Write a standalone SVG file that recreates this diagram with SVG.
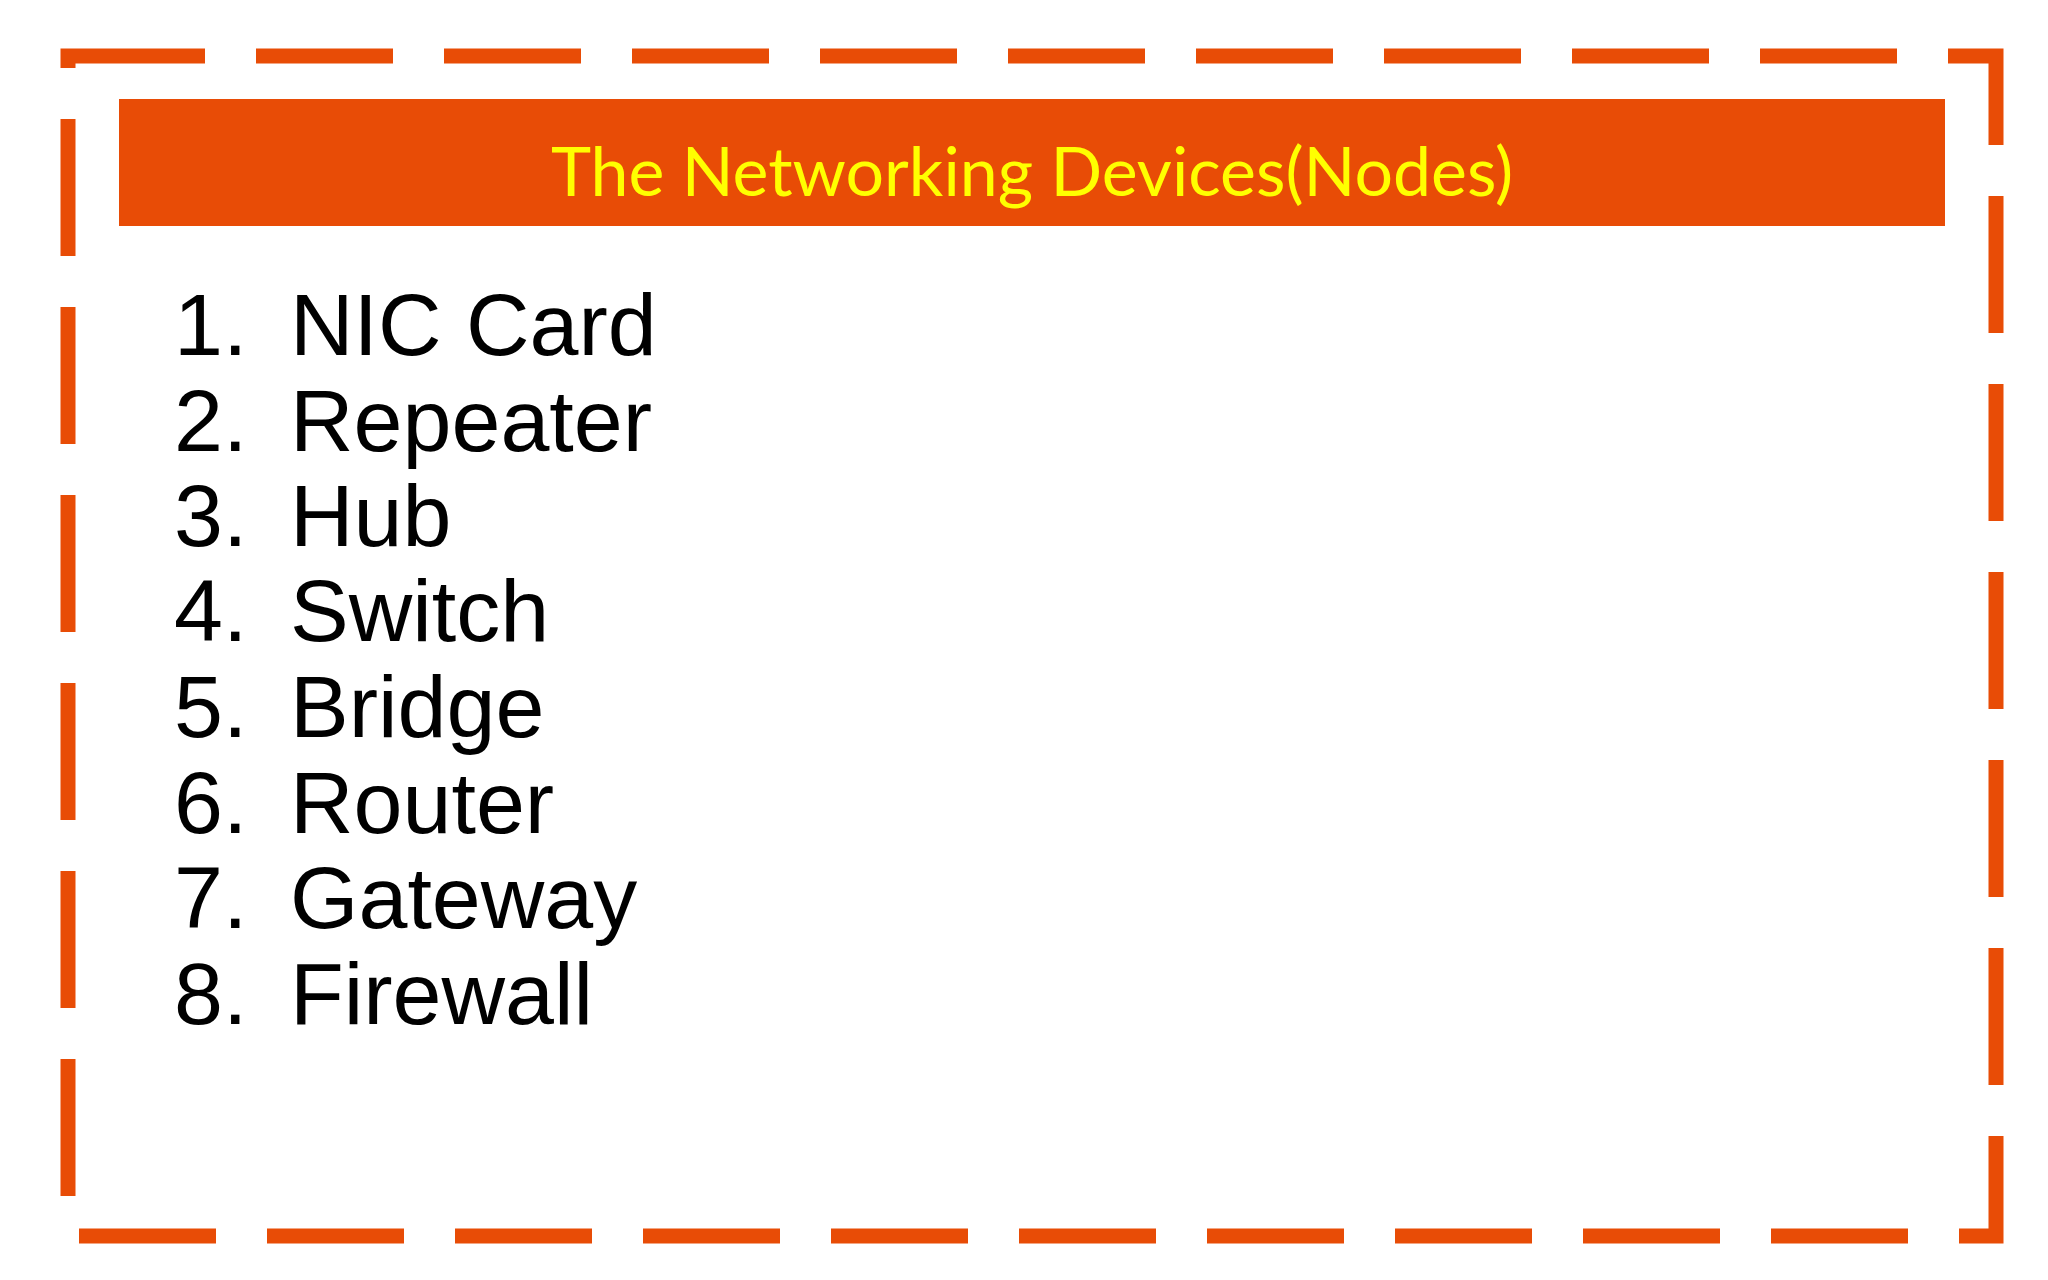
<svg xmlns="http://www.w3.org/2000/svg" width="2048" height="1280" viewBox="0 0 2048 1280">
<style>
.item{font-family:"Liberation Sans",Arial,sans-serif;font-size:88px;fill:#000}
.title{font-family:"Lato","Open Sans",sans-serif;font-size:68px;fill:#FFFF00}
</style>
<rect width="2048" height="1280" fill="#fff"/>
<g id="border">
<rect x="68" y="56" width="1928" height="1180" fill="none" stroke="#E84C06" stroke-width="15" stroke-dasharray="137 51"/>
</g>
<g id="header">
<rect x="119" y="99" width="1826" height="127" fill="#E84C06"/>
<text class="title" x="1032" y="196" text-anchor="middle">The Networking Devices(Nodes)</text>
</g>
<g id="list">
<text class="item" x="174" y="355">1.</text><text class="item" x="290" y="355">NIC Card</text>
<text class="item" x="174" y="451">2.</text><text class="item" x="290" y="451">Repeater</text>
<text class="item" x="174" y="546">3.</text><text class="item" x="290" y="546">Hub</text>
<text class="item" x="174" y="641">4.</text><text class="item" x="290" y="641">Switch</text>
<text class="item" x="174" y="737">5.</text><text class="item" x="290" y="737">Bridge</text>
<text class="item" x="174" y="833">6.</text><text class="item" x="290" y="833">Router</text>
<text class="item" x="174" y="928">7.</text><text class="item" x="290" y="928">Gateway</text>
<text class="item" x="174" y="1024">8.</text><text class="item" x="290" y="1024">Firewall</text>
</g>
</svg>
